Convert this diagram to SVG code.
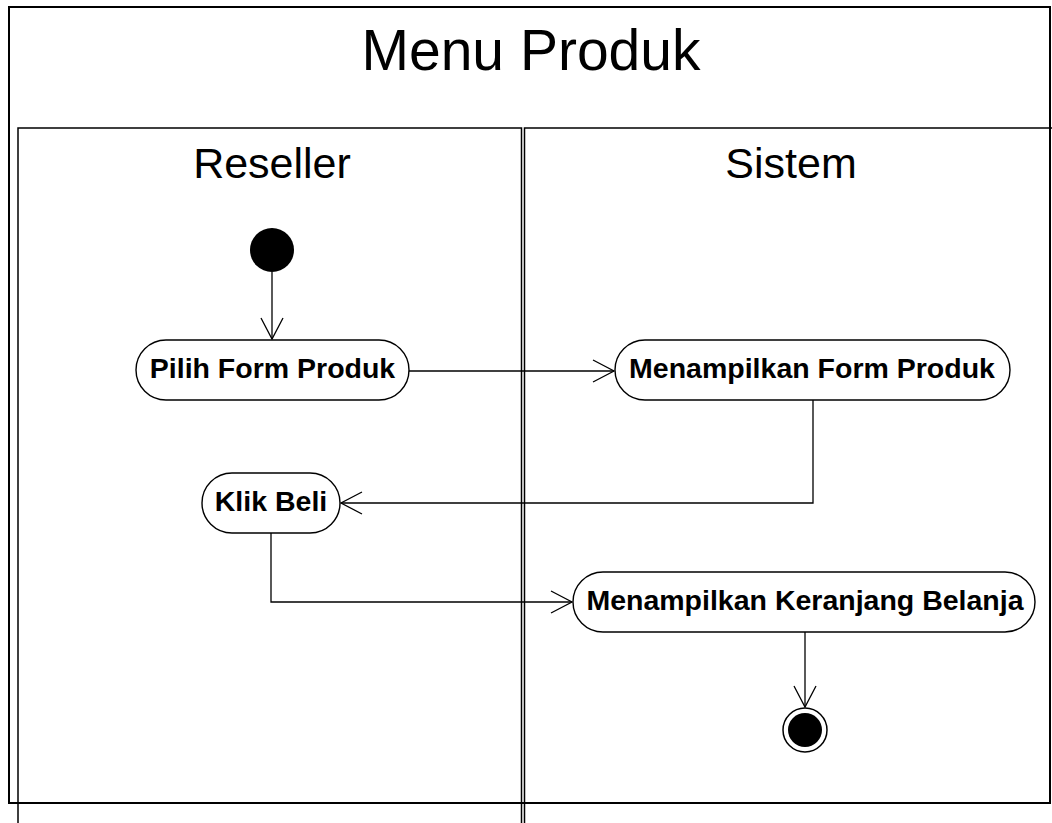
<svg xmlns="http://www.w3.org/2000/svg" width="1052" height="823" viewBox="0 0 1052 823">
  <style>
    .frame { fill: none; stroke: #000; stroke-width: 2; }
    .lane { fill: none; stroke: #000; stroke-width: 1.5; }
    .act { fill: #fff; stroke: #000; stroke-width: 1.4; }
    .act-label { font-family: "Liberation Sans", Arial, sans-serif; font-weight: bold; font-size: 28.5px; text-anchor: middle; fill: #000; }
    .title { font-family: "Liberation Sans", Arial, sans-serif; font-size: 57px; text-anchor: middle; fill: #000; }
    .lane-title { font-family: "Liberation Sans", Arial, sans-serif; font-size: 43px; text-anchor: middle; fill: #000; }
    .flow { fill: none; stroke: #000; stroke-width: 1.3; marker-end: url(#open-arrow); }
  </style>
  <defs>
    <marker id="open-arrow" markerUnits="userSpaceOnUse" viewBox="-24 -13 26 26" markerWidth="26" markerHeight="26" refX="0" refY="0" orient="auto">
      <path d="M-21,-11 L0,0 L-21,11" fill="none" stroke="#000" stroke-width="1.3"/>
    </marker>
  </defs>

  <rect width="1052" height="823" fill="#fff"/>

  <!-- activity frame and swimlanes -->
  <g id="frame">
    <rect class="frame" x="9" y="7" width="1041" height="796"/>
    <text class="title" x="531" y="70">Menu Produk</text>
  </g>
  <g id="lane-reseller">
    <path class="lane" d="M18,823 V128 H521.5 V823"/>
    <text class="lane-title" x="272" y="178">Reseller</text>
  </g>
  <g id="lane-sistem">
    <path class="lane" d="M524.5,823 V128 H1052"/>
    <text class="lane-title" x="791" y="178">Sistem</text>
  </g>

  <!-- control flows -->
  <g id="connectors">
    <path class="flow" d="M272,272 V339"/>
    <path class="flow" d="M409,371 H614"/>
    <path class="flow" d="M813,400 V503 H341"/>
    <path class="flow" d="M271,533 V602 H572"/>
    <path class="flow" d="M805,632 V707"/>
  </g>

  <!-- nodes -->
  <g id="start">
    <circle cx="272" cy="250" r="22" fill="#000"/>
  </g>
  <g id="pilih-form-produk">
    <rect class="act" x="136" y="340" width="273" height="60" rx="30" ry="30"/>
    <text class="act-label" x="272.5" y="378">Pilih Form Produk</text>
  </g>
  <g id="menampilkan-form-produk">
    <rect class="act" x="615" y="340" width="395" height="60" rx="30" ry="30"/>
    <text class="act-label" x="812" y="378">Menampilkan Form Produk</text>
  </g>
  <g id="klik-beli">
    <rect class="act" x="202" y="473" width="138" height="60" rx="30" ry="30"/>
    <text class="act-label" x="271" y="511">Klik Beli</text>
  </g>
  <g id="menampilkan-keranjang-belanja">
    <rect class="act" x="573" y="572" width="462" height="60" rx="30" ry="30"/>
    <text class="act-label" x="805" y="610">Menampilkan Keranjang Belanja</text>
  </g>
  <g id="end">
    <circle cx="805" cy="730" r="22" fill="#fff" stroke="#000" stroke-width="1.5"/>
    <circle cx="805" cy="730" r="17" fill="#000"/>
  </g>
</svg>
